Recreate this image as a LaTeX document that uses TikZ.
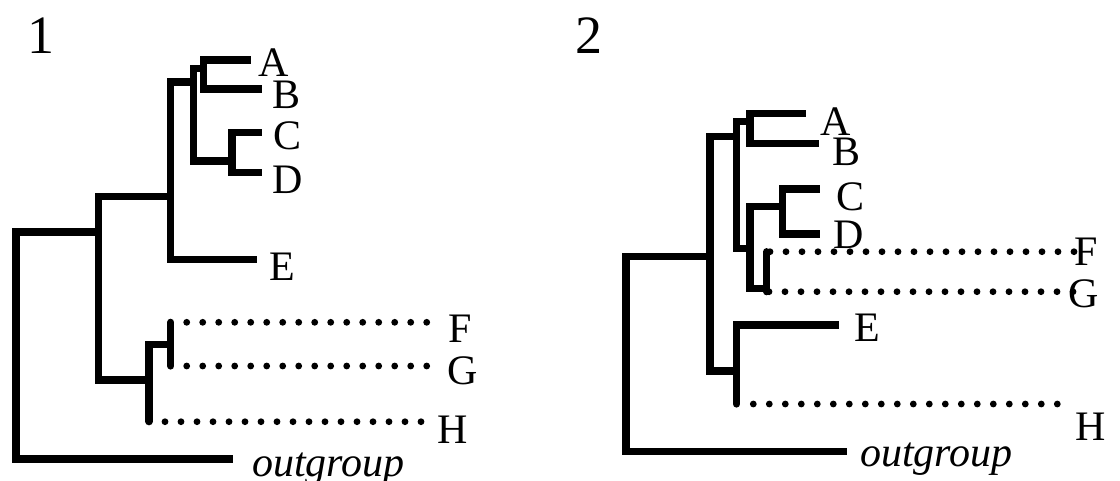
\documentclass[tikz,border=0pt]{standalone}
\usepackage{fontspec}
\setmainfont{Liberation Serif}
\begin{document}
\begin{tikzpicture}[x=1pt,y=-1pt,
  br/.style={line width=7.2pt, line join=miter, line cap=butt},
  brr/.style={line width=7.2pt, line cap=round},
  dots/.style={line width=6.8pt, line cap=round, dash pattern=on 0pt off 16pt},
  lab/.style={font=\fontsize{42}{42}\selectfont, inner sep=0pt, anchor=base},
  olab/.style={font=\fontsize{42}{42}\selectfont\itshape, inner sep=0pt, anchor=base},
  num/.style={font=\fontsize{54}{54}\selectfont, inner sep=0pt, anchor=base},
]
\useasboundingbox (0,0) rectangle (1120,480);

% ---------- panel 1 ----------
\node[num] (P1) at (41,53) {1};
\coordinate (r1) at (16,345);
\coordinate (n1) at (98.5,232);
\coordinate (tO1) at (233,459);
\coordinate (n2) at (170.7,196.5);
\coordinate (n6) at (149,380);
\coordinate (n3) at (193.3,82);
\coordinate (tE1) at (257,259.3);
\coordinate (n4) at (203.5,68.3);
\coordinate (n5) at (232,161);
\coordinate (tA1) at (251,60);
\coordinate (tB1) at (262,89);
\coordinate (tC1) at (262,132.3);
\coordinate (tD1) at (262,172.5);
\coordinate (n7) at (170.7,344.3);
\coordinate (h1) at (149,421.7);
\coordinate (s1t) at (170.7,322.3);
\coordinate (s1b) at (170.7,366);
\coordinate (f1s) at (186.7,322.3);
\coordinate (f1e) at (427.2,322.3);
\coordinate (g1s) at (186.7,366);
\coordinate (g1e) at (427.2,366);
\coordinate (k1s) at (165,421.7);
\coordinate (k1e) at (421.5,421.7);

\draw[br] (r1) |- (n1);
\draw[br] (r1) |- (tO1);
\draw[br] (n1) |- (n2);
\draw[br] (n1) |- (n6);
\draw[br] (n2) |- (n3);
\draw[br] (n2) |- (tE1);
\draw[br] (n3) |- (n4);
\draw[br] (n3) |- (n5);
\draw[br] (n4) |- (tA1);
\draw[br] (n4) |- (tB1);
\draw[br] (n5) |- (tC1);
\draw[br] (n5) |- (tD1);
\draw[br] (n6) |- (n7);
\draw[brr] (n6) -- (h1);
\draw[brr] (s1t) -- (s1b);
\draw[dots] (f1s) -- (f1e);
\draw[dots] (g1s) -- (g1e);
\draw[dots] (k1s) -- (k1e);

\node[lab] (A1) at (273.5,76.7) {A};
\node[lab] (B1) at (287,108) {B};
\node[lab] (C1) at (287.5,149.5) {C};
\node[lab] (D1) at (288,193) {D};
\node[lab] (E1) at (282.5,280) {E};
\node[lab] (F1) at (460,342) {F};
\node[lab] (G1) at (462.5,384) {G};
\node[lab] (H1) at (453,443) {H};
\node[olab] (O1) at (328.5,476) {outgroup};

% ---------- panel 2 ----------
\node[num] (P2) at (589,53) {2};
\coordinate (r2) at (626,350);
\coordinate (m1) at (710,256.7);
\coordinate (tO2) at (846.7,451.7);
\coordinate (m2) at (736.5,136.7);
\coordinate (m6) at (736.5,371);
\coordinate (m3) at (750,121.7);
\coordinate (m4) at (750,248.3);
\coordinate (tA2) at (806,113.3);
\coordinate (tB2) at (819.3,143.3);
\coordinate (m5) at (782.7,206.7);
\coordinate (m7) at (766.7,288.3);
\coordinate (tC2) at (820,189);
\coordinate (tD2) at (820,234);
\coordinate (s2t) at (766.7,251.7);
\coordinate (s2b) at (766.7,291.7);
\coordinate (tE2) at (839.3,325);
\coordinate (h2) at (736.5,404);
\coordinate (f2s) at (770,251.7);
\coordinate (f2e) at (1074.5,251.7);
\coordinate (g2s) at (769,291.7);
\coordinate (g2e) at (1073.5,291.7);
\coordinate (k2s) at (753.3,404);
\coordinate (k2e) at (1057.8,404);

\draw[br] (r2) |- (m1);
\draw[br] (r2) |- (tO2);
\draw[br] (m1) |- (m2);
\draw[br] (m1) |- (m6);
\draw[br] (m2) |- (m3);
\draw[br] (m2) |- (m4);
\draw[br] (m3) |- (tA2);
\draw[br] (m3) |- (tB2);
\draw[br] (m4) |- (m5);
\draw[br] (m4) |- (m7);
\draw[br] (m5) |- (tC2);
\draw[br] (m5) |- (tD2);
\draw[brr] (s2t) -- (s2b);
\draw[br] (m6) |- (tE2);
\draw[brr] (m6) -- (h2);
\draw[dots] (f2s) -- (f2e);
\draw[dots] (g2s) -- (g2e);
\draw[dots] (k2s) -- (k2e);

\node[lab] (A2) at (836,135) {A};
\node[lab] (B2) at (846,165) {B};
\node[lab] (C2) at (850,210.5) {C};
\node[lab] (D2) at (848.5,248) {D};
\node[lab] (E2) at (867.5,341.7) {E};
\node[lab] (F2) at (1086.5,265) {F};
\node[lab] (G2) at (1084,307) {G};
\node[lab] (H2) at (1091,440) {H};
\node[olab] (O2) at (936.5,466.7) {outgroup};
\end{tikzpicture}
\end{document}
